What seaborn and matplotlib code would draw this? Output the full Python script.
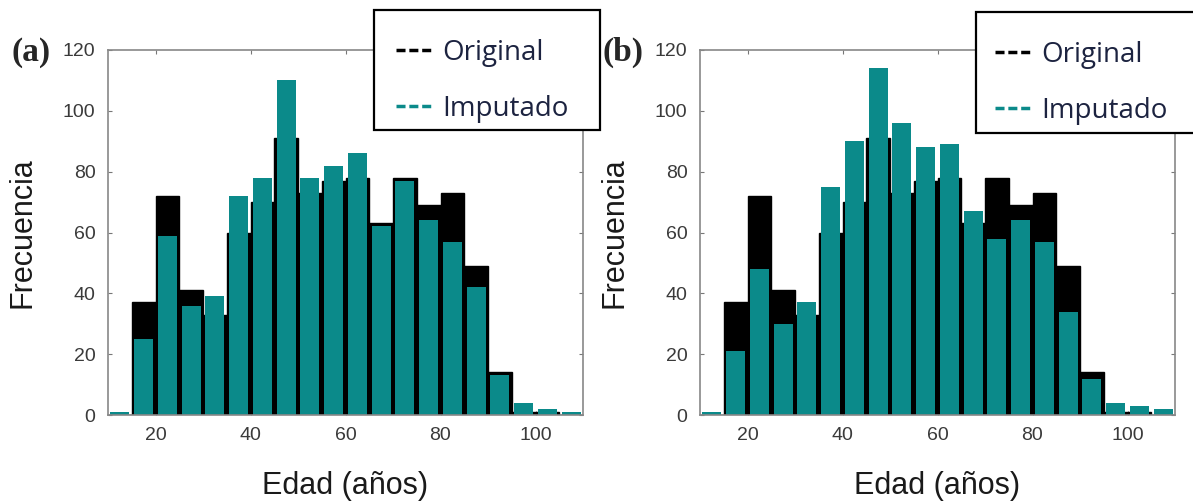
import matplotlib.pyplot as plt
import seaborn as sns
from matplotlib.lines import Line2D
from matplotlib.patches import Rectangle

# Age bins (years) and bin centres
bin_edges = [10, 15, 20, 25, 30, 35, 40, 45, 50, 55, 60, 65, 70, 75, 80, 85, 90, 95, 100, 105, 110]
ages = [12.5, 17.5, 22.5, 27.5, 32.5, 37.5, 42.5, 47.5, 52.5, 57.5, 62.5, 67.5, 72.5, 77.5,
        82.5, 87.5, 92.5, 97.5, 102.5, 107.5]

# Frequencies
original = [0, 37, 72, 41, 33, 60, 70, 91, 73, 77, 78, 63, 78, 69, 73, 49, 14, 1, 1, 0]
imputado_a = [1, 25, 59, 36, 39, 72, 78, 110, 78, 82, 86, 62, 77, 64, 57, 42, 13, 4, 2, 1]
imputado_b = [1, 21, 48, 30, 37, 75, 90, 114, 96, 88, 89, 67, 58, 64, 57, 34, 12, 4, 3, 2]

panels = ['(a)', '(b)']
x_ticks = [20, 40, 60, 80, 100]
y_ticks = [0, 20, 40, 60, 80, 100, 120]
teal = '#0b8a8a'

W, H = 1193, 504

sns.set_style('ticks')
plt.rcParams['font.family'] = ['Liberation Sans', 'DejaVu Sans']

fig = plt.figure(figsize=(W / 100, H / 100), dpi=100)
ax_a = fig.add_axes([108 / W, 1 - 415 / H, 475 / W, 365 / H])
ax_b = fig.add_axes([700 / W, 1 - 415 / H, 475 / W, 365 / H])

for ax, imputado, tag in zip([ax_a, ax_b], [imputado_a, imputado_b], panels):
    sns.histplot(x=ages, weights=original, bins=bin_edges, color='black', edgecolor='black',
                 linewidth=1, alpha=1, ax=ax)
    sns.histplot(x=ages, weights=imputado, bins=bin_edges, shrink=0.8, color=teal,
                 linewidth=0, alpha=1, ax=ax)
    ax.set_xlim(10, 110)
    ax.set_ylim(0, 120)
    ax.set_xticks(x_ticks)
    ax.set_yticks(y_ticks)
    ax.tick_params(direction='in', length=3, width=0.8, color='#777777', labelcolor='#3a3a3a',
                   labelsize=14, top=True, right=True, pad=9)
    for sp in ax.spines.values():
        sp.set_color('#888888')
        sp.set_linewidth(1.2)
    ax.set_xlabel('Edad (años)', fontsize=22, color='#1a1a1a', labelpad=19)
    ax.set_ylabel('Frecuencia', fontsize=22, color='#1a1a1a', labelpad=18)
    # panel tag
    pos = ax.get_position()
    fig.text(pos.x0 - 77 / W, 1 - 52 / H, tag, fontsize=24, fontweight='bold',
             family=['Liberation Serif', 'DejaVu Serif'], ha='center', va='center')

handles = [Line2D([], [], color='black', linestyle=(0, (2.6, 1.1)), linewidth=2.5),
           Line2D([], [], color=teal, linestyle=(0, (2.6, 1.1)), linewidth=2.5)]
labels = ['Original', 'Imputado']

# legend boxes: (left, top, right, bottom) in pixels, and start of the handles
legend_boxes = [(374, 10, 600, 130, 396), (976, 12, 1222, 133, 995)]
for left, top, right, bottom, hx in legend_boxes:
    fig.patches.append(Rectangle((left / W, 1 - bottom / H), (right - left) / W, (bottom - top) / H,
                                 transform=fig.transFigure, facecolor='white', edgecolor='black',
                                 linewidth=1.6, zorder=5))
    leg = fig.legend(handles, labels, loc='center left', bbox_to_anchor=(hx / W, 1 - (top + 71) / H),
                     frameon=False, handlelength=1.3, handletextpad=0.36, borderpad=0,
                     labelspacing=1.0, borderaxespad=0,
                     prop={'family': ['Open Sans', 'DejaVu Sans'], 'size': 20},
                     labelcolor='#1c2340')
    leg.set_zorder(6)

fig.savefig('out.png', dpi=100)
